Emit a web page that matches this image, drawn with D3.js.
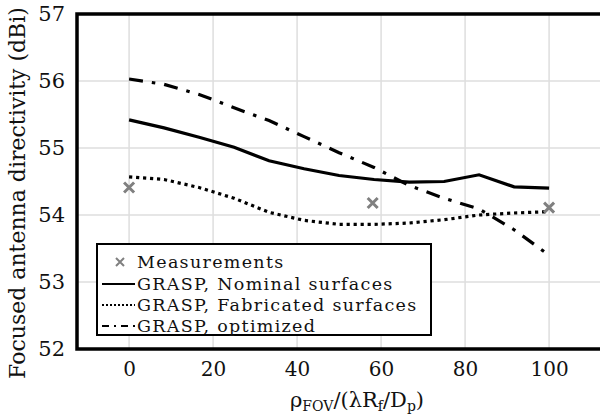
<!DOCTYPE html>
<html>
<head>
<meta charset="utf-8">
<script src="https://cdn.jsdelivr.net/npm/d3@7"></script>
<style>
html, body { margin: 0; padding: 0; background: #fff; }
svg { display: block; }
text { font-family: "DejaVu Serif", serif; fill: #111; }
</style>
</head>
<body>
<svg id="chart" width="600" height="418"></svg>
<script>
// ---- data ----
const xSamples = [0, 8.33, 16.67, 25, 33.33, 41.67, 50, 58.33, 66.67, 75, 83.33, 91.67, 100];
const nominal    = [55.42, 55.30, 55.16, 55.01, 54.81, 54.69, 54.59, 54.53, 54.49, 54.50, 54.60, 54.42, 54.40];
const fabricated = [54.57, 54.53, 54.41, 54.25, 54.04, 53.92, 53.86, 53.86, 53.88, 53.93, 54.00, 54.03, 54.05];
const optimized  = [56.03, 55.95, 55.80, 55.60, 55.41, 55.17, 54.93, 54.71, 54.44, 54.25, 54.09, 53.78, 53.40];
const measX = [0, 58, 100];
const measY = [54.41, 54.18, 54.11];
const xTicks = [0, 20, 40, 60, 80, 100];
const yTicks = [52, 53, 54, 55, 56, 57];
const legendLabels = ["Measurements", "GRASP, Nominal surfaces", "GRASP, Fabricated surfaces", "GRASP, optimized"];

// ---- layout ----
const svg = d3.select("#chart");
const mLeft = 77, mTop = 14, mBottom = 349;
const x = d3.scaleLinear().domain([-12.4, 120]).range([mLeft, mLeft + 132.4 * 4.2]);
const y = d3.scaleLinear().domain([52, 57]).range([mBottom, mTop]);

// grid
const grid = svg.append("g");
grid.selectAll("line.v").data(xTicks).join("line")
  .attr("x1", d => x(d)).attr("x2", d => x(d))
  .attr("y1", mTop).attr("y2", mBottom)
  .attr("stroke", "#dedede").attr("stroke-width", 1.5);
grid.selectAll("line.h").data(yTicks.filter(d => d > 52 && d < 57)).join("line")
  .attr("x1", mLeft).attr("x2", 600)
  .attr("y1", d => y(d)).attr("y2", d => y(d))
  .attr("stroke", "#dedede").attr("stroke-width", 1.5);

// axes
const xAxis = d3.axisBottom(x).tickValues(xTicks).tickFormat(d3.format("d")).tickSize(0).tickPadding(13);
const gx = svg.append("g").attr("transform", `translate(0,${mBottom})`).call(xAxis);
gx.select(".domain").remove();
gx.selectAll("text").style("font-family", "DejaVu Serif").style("font-size", "20px").attr("fill", "#111");

const yAxis = d3.axisLeft(y).tickValues(yTicks).tickFormat(d3.format("d")).tickSize(0).tickPadding(12);
const gy = svg.append("g").attr("transform", `translate(${mLeft},0)`).call(yAxis);
gy.select(".domain").remove();
gy.selectAll("text").style("font-family", "DejaVu Serif").style("font-size", "21px").attr("fill", "#111");

// frame lines (left, top, bottom; open to the right)
svg.append("path")
  .attr("d", `M600,${mTop}H${mLeft}V${mBottom}H600`)
  .attr("fill", "none").attr("stroke", "#000").attr("stroke-width", 3.5);

// series
const line = d3.line().x(d => x(d[0])).y(d => y(d[1]));
const series = [
  { vals: nominal, dash: null },
  { vals: fabricated, dash: "3.2,3.8" },
  { vals: optimized, dash: "14,9,3.5,9" }
];
series.forEach(s => {
  svg.append("path")
    .datum(xSamples.map((xx, i) => [xx, s.vals[i]]))
    .attr("d", line)
    .attr("fill", "none").attr("stroke", "#000").attr("stroke-width", 3.2)
    .attr("stroke-dasharray", s.dash);
});

// measurement crosses
const cross = (g, cx, cy, r, w) => {
  g.append("path")
    .attr("d", `M${cx - r},${cy - r}L${cx + r},${cy + r}M${cx - r},${cy + r}L${cx + r},${cy - r}`)
    .attr("stroke", "#808080").attr("stroke-width", w).attr("fill", "none");
};
const mg = svg.append("g");
measX.forEach((mx, i) => cross(mg, x(mx), y(measY[i]), 5, 3));

// legend
const lg = svg.append("g");
lg.append("rect").attr("x", 97).attr("y", 244).attr("width", 334).attr("height", 91)
  .attr("fill", "#fff").attr("stroke", "#000").attr("stroke-width", 2);
const rowY = [262, 284, 305, 326];
legendLabels.forEach((t, i) => {
  lg.append("text").attr("x", 137).attr("y", rowY[i]).attr("dy", "0.35em")
    .style("font-size", "17.5px").style("letter-spacing", "1.3px").text(t);
});
cross(lg, 120, rowY[0], 4, 2);
const samples = [null, null, "2,2", "7,5,2,5"];
[1, 2, 3].forEach(i => {
  lg.append("line").attr("x1", 102).attr("x2", 135)
    .attr("y1", rowY[i]).attr("y2", rowY[i])
    .attr("stroke", "#000").attr("stroke-width", 2)
    .attr("stroke-dasharray", samples[i]);
});

// axis titles
svg.append("text")
  .attr("transform", `translate(25,193) rotate(-90)`)
  .attr("text-anchor", "middle")
  .style("font-size", "22px")
  .text("Focused antenna directivity (dBi)");

const xt = svg.append("text").attr("x", 357).attr("y", 407).attr("text-anchor", "middle").style("font-size", "21px");
xt.append("tspan").text("ρ");
xt.append("tspan").attr("dy", 4).style("font-size", "14px").text("FOV");
xt.append("tspan").attr("dy", -4).text("/(λR");
xt.append("tspan").attr("dy", 4).style("font-size", "14px").text("f");
xt.append("tspan").attr("dy", -4).text("/D");
xt.append("tspan").attr("dy", 4).style("font-size", "14px").text("p");
xt.append("tspan").attr("dy", -4).text(")");
</script>
</body>
</html>
